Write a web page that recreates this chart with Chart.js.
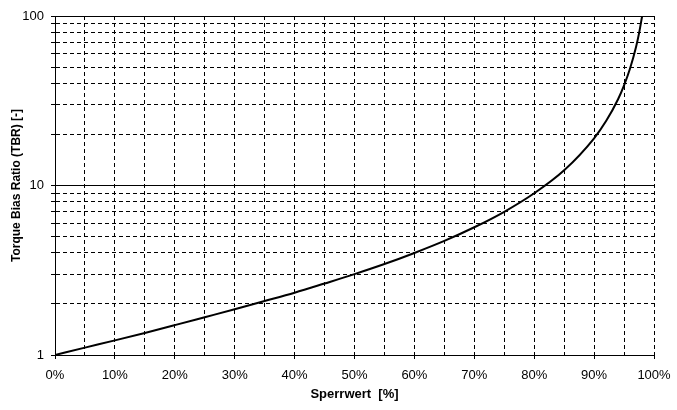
<!DOCTYPE html>
<html>
<head>
<meta charset="utf-8">
<title>Torque Bias Ratio</title>
<script src="https://cdn.jsdelivr.net/npm/chart.js@4/dist/chart.umd.min.js"></script>
<style>
    body { margin: 0; background: #fff; }
    canvas { display: block; }
</style>
</head>
<body>
<canvas id="tbrChart" width="677" height="410"></canvas>
<script>
// Values
const sperrwert = [0, 5, 10, 15, 20, 25, 30, 35, 40, 45, 50, 55, 60, 65, 70, 75, 80, 85, 90, 92, 94, 95, 96, 97, 97.5, 98];
const tbr = [1.00, 1.105, 1.22, 1.35, 1.50, 1.67, 1.86, 2.08, 2.33, 2.64, 3.00, 3.44, 4.00, 4.71, 5.67, 7.0, 9.0, 12.3, 19.0, 24.0, 32.3, 39.0, 49.0, 65.7, 79.0, 99.0];
const yTicks = [1, 2, 3, 4, 5, 6, 7, 8, 9, 10, 20, 30, 40, 50, 60, 70, 80, 90, 100];
const yLabels = [1, 10, 100];

document.addEventListener('DOMContentLoaded', function() {

    const FONT = 'Arial, "Liberation Sans", sans-serif';
    const ctx = document.getElementById('tbrChart').getContext('2d');

    new Chart(ctx, {
        type: 'line',
        data: {
            datasets: [{
                data: sperrwert.map(function(x, i) { return { x: x, y: tbr[i] }; }),
                borderColor: '#000',
                borderWidth: 2,
                pointRadius: 0,
                cubicInterpolationMode: 'monotone',
                fill: false
            }]
        },
        options: {
            responsive: false,
            animation: false,
            layout: { padding: { top: 16, right: 23, left: 0, bottom: 0 } },
            plugins: {
                legend: { display: false },
                tooltip: { enabled: false }
            },
            scales: {
                x: {
                    type: 'linear',
                    min: 0,
                    max: 100,
                    afterFit: function(scale) {
                        scale.height = 55;
                        // let the 100% label hang over the right margin
                        scale.paddingLeft = 0;
                        scale.paddingRight = 0;
                    },
                    ticks: {
                        stepSize: 5,
                        autoSkip: false,
                        maxRotation: 0,
                        color: '#000',
                        padding: 9,
                        font: { family: FONT, size: 13 },
                        callback: function(v) { return v % 10 === 0 ? v + '%' : ''; }
                    },
                    grid: {
                        color: '#000',
                        lineWidth: 1,
                        tickLength: 4,
                        tickColor: function(c) {
                            return c.tick && c.tick.value % 10 === 0 ? '#000' : 'rgba(0,0,0,0)';
                        }
                    },
                    border: { color: '#000', width: 1, dash: [4, 3] },
                    title: {
                        display: true,
                        text: 'Sperrwert  [%]',
                        color: '#000',
                        font: { family: FONT, size: 13, weight: 'bold', lineHeight: 1.2 },
                        padding: { top: 0, bottom: 8 }
                    }
                },
                y: {
                    type: 'logarithmic',
                    min: 1,
                    max: 100,
                    afterFit: function(scale) { scale.width = 55; },
                    afterBuildTicks: function(scale) {
                        scale.ticks = yTicks.map(function(v) { return { value: v }; });
                    },
                    ticks: {
                        autoSkip: false,
                        color: '#000',
                        padding: 7,
                        font: { family: FONT, size: 13 },
                        callback: function(v) { return yLabels.indexOf(v) >= 0 ? String(v) : ''; }
                    },
                    grid: {
                        color: '#000',
                        lineWidth: 1,
                        tickLength: 4,
                        tickColor: '#000'
                    },
                    border: {
                        color: '#000',
                        width: 1,
                        dash: function(c) {
                            if (!c.tick) return [];
                            return yLabels.indexOf(c.tick.value) >= 0 ? [] : [4, 3];
                        }
                    },
                    title: {
                        display: true,
                        text: 'Torque Bias Ratio (TBR) [-]',
                        color: '#000',
                        font: { family: FONT, size: 12, weight: 'bold', lineHeight: 1.2 },
                        padding: { top: 9, bottom: 0 }
                    }
                }
            }
        }
    });
});
</script>
</body>
</html>
